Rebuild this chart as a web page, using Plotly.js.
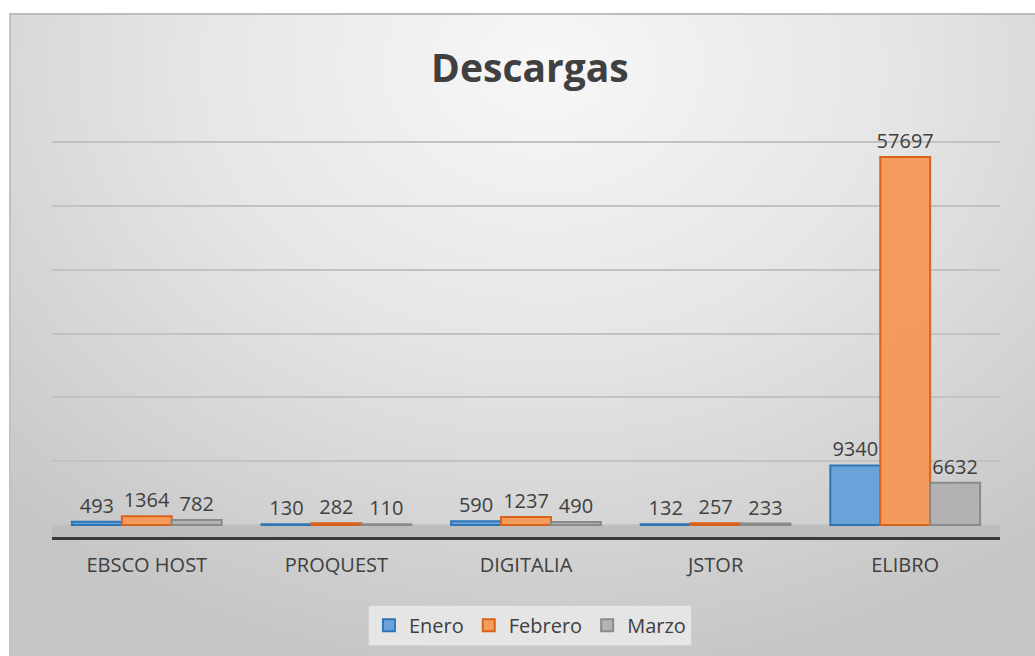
<!DOCTYPE html>
<html>
<head>
<meta charset="utf-8">
<script src="https://cdn.plot.ly/plotly-3.0.1.min.js"></script>
<style>
  html, body { margin: 0; padding: 0; background: #ffffff; }
  #bg {
    position: absolute; left: 9px; top: 13px; width: 1026px; height: 643px;
    border-top: 2px solid #bdbdbd; border-left: 2px solid #c2c2c2; box-sizing: border-box;
    background: radial-gradient(ellipse 75% 95% at 52% 8%, #f7f7f7 0%, #e6e6e6 45%, #d2d2d2 80%, #c6c6c6 100%);
  }
  #chart { position: absolute; left: 0; top: 0; width: 1035px; height: 656px; }
</style>
</head>
<body>
<div id="bg"></div>
<div id="chart"></div>
<script>
const categories = ["EBSCO HOST", "PROQUEST", "DIGITALIA", "JSTOR", "ELIBRO"];
const enero   = [493, 130, 590, 132, 9340];
const febrero = [1364, 282, 1237, 257, 57697];
const marzo   = [782, 110, 490, 233, 6632];
const seriesNames = ["Enero", "Febrero", "Marzo"];

const fills = ["rgba(100,160,218,0.95)", "rgba(244,152,86,0.95)", "rgba(176,176,176,0.95)"];
const lines = ["#2e75b6", "#d9621a", "#8a8a8a"];
const data = [enero, febrero, marzo];

const traces = data.map((vals, i) => ({
  type: "bar",
  name: seriesNames[i],
  x: categories,
  y: vals,
  text: vals.map(String),
  textposition: "outside",
  constraintext: "none",
  cliponaxis: false,
  textfont: { family: "Open Sans, sans-serif", size: 20, color: "#404040" },
  marker: { color: fills[i], line: { color: lines[i], width: 2 } },
  hoverinfo: "x+y+name"
}));

const layout = {
  width: 1035, height: 656,
  paper_bgcolor: "rgba(0,0,0,0)",
  plot_bgcolor: "rgba(0,0,0,0)",
  margin: { l: 52, r: 35, t: 120, b: 119 },
  title: {
    text: "<b>Descargas</b>",
    font: { family: "Open Sans, sans-serif", size: 39, color: "#404040" },
    x: 0.512, xref: "container", xanchor: "center",
    y: 0.896, yref: "container", yanchor: "middle"
  },
  barmode: "group",
  bargap: 0.21,
  bargroupgap: 0,
  xaxis: {
    type: "category",
    range: [-0.5, 4.5],
    showline: true, linecolor: "#3a3a3a", linewidth: 3,
    ticks: "outside", ticklen: 8, tickcolor: "rgba(0,0,0,0)",
    tickfont: { family: "Open Sans, sans-serif", size: 20, color: "#404040" },
    showgrid: false, fixedrange: true
  },
  yaxis: {
    range: [-1881, 63500],
    dtick: 10000, tick0: 0,
    showticklabels: false, ticks: "",
    showgrid: true, gridcolor: "#c2c2c2", gridwidth: 2,
    zeroline: false, showline: false, fixedrange: true
  },
  shapes: [{
    type: "rect", layer: "below",
    xref: "paper", x0: 0, x1: 1,
    yref: "y", y0: -1881, y1: 0,
    fillcolor: "#bdbdbd", line: { width: 0 }
  }],
  legend: {
    orientation: "h",
    xref: "container", x: 0.512, xanchor: "center",
    yref: "container", y: 0.047, yanchor: "middle",
    bgcolor: "rgba(232,232,232,0.9)", bordercolor: "#d0d0d0", borderwidth: 1,
    font: { family: "Open Sans, sans-serif", size: 20, color: "#404040" },
    itemwidth: 30, traceorder: "normal"
  },
  showlegend: true
};

Plotly.newPlot("chart", traces, layout, { displayModeBar: false, staticPlot: true });
</script>
</body>
</html>
